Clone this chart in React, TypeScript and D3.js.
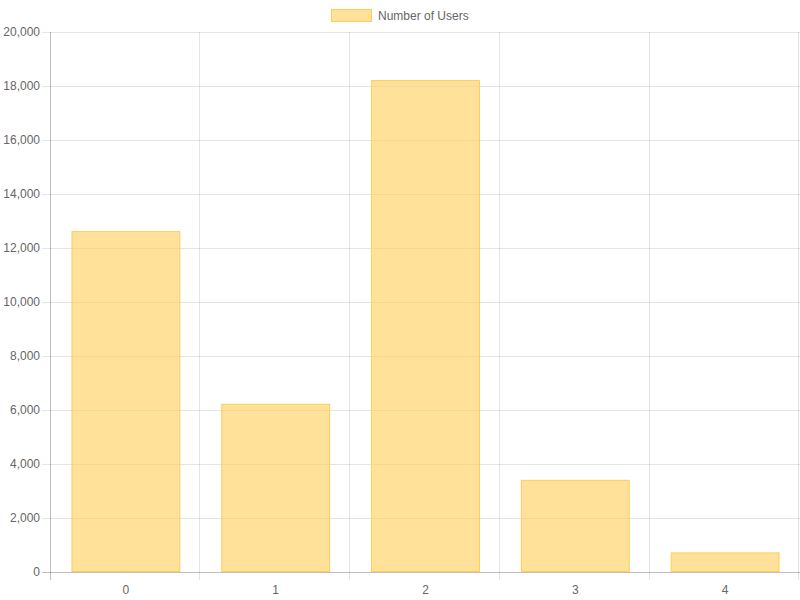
import React, { useRef, useEffect } from 'react';
import * as d3 from 'd3';

const categories = ['0', '1', '2', '3', '4'];
const users = [12600, 6200, 18200, 3380, 690];
const yTicks = [0, 2000, 4000, 6000, 8000, 10000, 12000, 14000, 16000, 18000, 20000];
const seriesName = 'Number of Users';

const App: React.FC = () => {
  const svgRef = useRef<SVGSVGElement>(null);

  useEffect(() => {
    if (!svgRef.current) return;
    const width = 800,
      height = 600;
    const margin = { top: 32, right: 0, bottom: 28.5, left: 51 };
    const font = '"Liberation Sans", Arial, Helvetica, sans-serif';

    const svg = d3.select(svgRef.current).attr('width', width).attr('height', height);
    svg.selectAll('*').remove();

    const x = d3
      .scaleBand()
      .domain(categories)
      .range([margin.left, width - margin.right])
      .paddingInner(0)
      .paddingOuter(0);
    const y = d3
      .scaleLinear()
      .domain([0, 20000])
      .range([height - margin.bottom, margin.top]);

    const grid = svg.append('g').attr('shape-rendering', 'crispEdges');

    // horizontal grid + y ticks
    grid
      .selectAll('line.h')
      .data(yTicks)
      .enter()
      .append('line')
      .attr('x1', margin.left - 9)
      .attr('x2', width - margin.right)
      .attr('y1', (d) => Math.round(y(d)) + 0.5)
      .attr('y2', (d) => Math.round(y(d)) + 0.5)
      .attr('stroke', (d) => (d === 0 ? 'rgba(0,0,0,0.25)' : 'rgba(0,0,0,0.1)'));

    // vertical grid lines at category boundaries
    const bounds = categories.map((c) => x(c) as number).concat([width - margin.right - 1]);
    grid
      .selectAll('line.v')
      .data(bounds)
      .enter()
      .append('line')
      .attr('x1', (d) => Math.floor(d) - 0.5)
      .attr('x2', (d) => Math.floor(d) - 0.5)
      .attr('y1', margin.top)
      .attr('y2', height - margin.bottom + 8)
      .attr('stroke', (d, i) => (i === 0 ? 'rgba(0,0,0,0.25)' : 'rgba(0,0,0,0.1)'));

    // y tick labels
    svg
      .append('g')
      .selectAll('text')
      .data(yTicks)
      .enter()
      .append('text')
      .attr('x', margin.left - 11)
      .attr('y', (d) => y(d))
      .attr('dy', '0.35em')
      .attr('text-anchor', 'end')
      .attr('font-family', font)
      .attr('font-size', 12)
      .attr('fill', '#666')
      .text((d) => d3.format(',')(d));

    // x tick labels
    svg
      .append('g')
      .selectAll('text')
      .data(categories)
      .enter()
      .append('text')
      .attr('x', (d) => (x(d) as number) + x.bandwidth() / 2)
      .attr('y', height - margin.bottom + 22)
      .attr('text-anchor', 'middle')
      .attr('font-family', font)
      .attr('font-size', 12)
      .attr('fill', '#666')
      .text((d) => d);

    // bars
    const barW = x.bandwidth() * 0.72;
    svg
      .append('g')
      .selectAll('rect')
      .data(users)
      .enter()
      .append('rect')
      .attr('x', (d, i) => (x(categories[i]) as number) + (x.bandwidth() - barW) / 2)
      .attr('y', (d) => y(d))
      .attr('width', barW)
      .attr('height', (d) => y(0) - y(d))
      .attr('fill', 'rgba(255,205,86,0.6)')
      .attr('stroke', 'rgba(255,205,86,1)')
      .attr('stroke-width', 1);

    // legend
    const legend = svg.append('g');
    legend
      .append('rect')
      .attr('x', 331.5)
      .attr('y', 9.5)
      .attr('width', 40)
      .attr('height', 12)
      .attr('fill', 'rgba(255,205,86,0.6)')
      .attr('stroke', 'rgba(255,205,86,1)');
    legend
      .append('text')
      .attr('x', 378)
      .attr('y', 16)
      .attr('dy', '0.35em')
      .attr('font-family', font)
      .attr('font-size', 12)
      .attr('fill', '#666')
      .text(seriesName);
  }, []);

  return (
    <div style={{ position: 'absolute', left: 0, top: 0 }}>
      <svg ref={svgRef} style={{ display: 'block' }} />
    </div>
  );
};

export default App;
